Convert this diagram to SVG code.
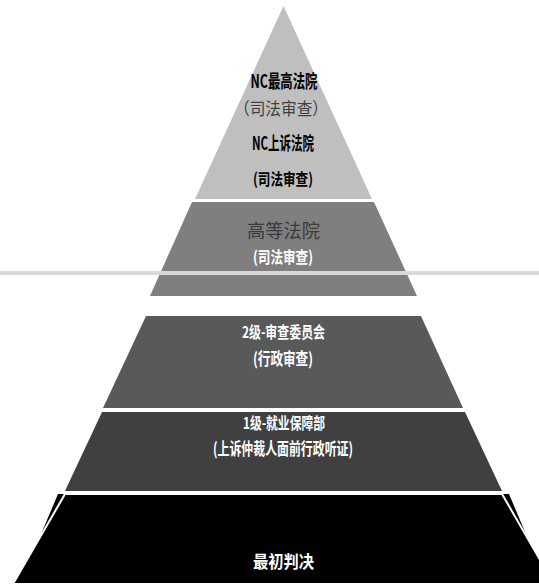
<svg xmlns="http://www.w3.org/2000/svg" width="539" height="584" viewBox="0 0 539 584">
<style>
.t{font-family:"Noto Sans CJK SC","Liberation Sans",sans-serif;text-anchor:middle}
.b{font-weight:bold}
.w{fill:#ffffff}
.k{fill:#000000}
</style>
<rect x="0" y="0" width="539" height="584" fill="#ffffff"/>
<g id="level-top">
<polygon points="283.5,6 372,199 195,199" fill="#bfbfbf"/>
<text class="t b k" x="284" y="88" font-size="18" textLength="67" lengthAdjust="spacingAndGlyphs">NC最高法院</text>
<text class="t" x="281" y="115" font-size="17" fill="#404040" textLength="94" lengthAdjust="spacingAndGlyphs">（司法审查）</text>
<text class="t b k" x="283" y="150" font-size="18" textLength="62" lengthAdjust="spacingAndGlyphs">NC上诉法院</text>
<text class="t b k" x="283" y="185" font-size="16" textLength="60" lengthAdjust="spacingAndGlyphs">(司法审查)</text>
</g>
<g id="level-high-court">
<polygon points="192,202 374,202 417,296 150,296" fill="#7f7f7f"/>
<text class="t" x="283.5" y="238" font-size="19" fill="#3a3a3a" textLength="73" lengthAdjust="spacingAndGlyphs">高等法院</text>
<text class="t b w" x="283" y="263" font-size="16" textLength="60" lengthAdjust="spacingAndGlyphs">(司法审查)</text>
</g>
<g id="connectors">
<rect x="0" y="271" width="539" height="4" fill="#d9d9d9"/>
</g>
<g id="level-2">
<polygon points="146,316 421,316 463,408 103,408" fill="#595959"/>
<text class="t b w" x="283.5" y="338" font-size="16" textLength="83" lengthAdjust="spacingAndGlyphs">2级-审查委员会</text>
<text class="t b w" x="283" y="365" font-size="17" textLength="60" lengthAdjust="spacingAndGlyphs">(行政审查)</text>
</g>
<g id="level-1">
<polygon points="102,412 465,412 502,491 65,491" fill="#404040"/>
<text class="t b w" x="284" y="429" font-size="16" textLength="82" lengthAdjust="spacingAndGlyphs">1级-就业保障部</text>
<text class="t b w" x="283" y="455" font-size="17" textLength="140" lengthAdjust="spacingAndGlyphs">(上诉仲裁人面前行政听证)</text>
</g>
<g id="level-initial">
<polygon points="58,494 509,494 547,584 20,584" fill="#000000"/>
<polygon points="65,494 502,494 554,584 13,584" fill="#000000" stroke="#ffffff" stroke-width="2"/>
<text class="t b w" x="283.5" y="568" font-size="17" textLength="61" lengthAdjust="spacingAndGlyphs">最初判决</text>
</g>
</svg>
